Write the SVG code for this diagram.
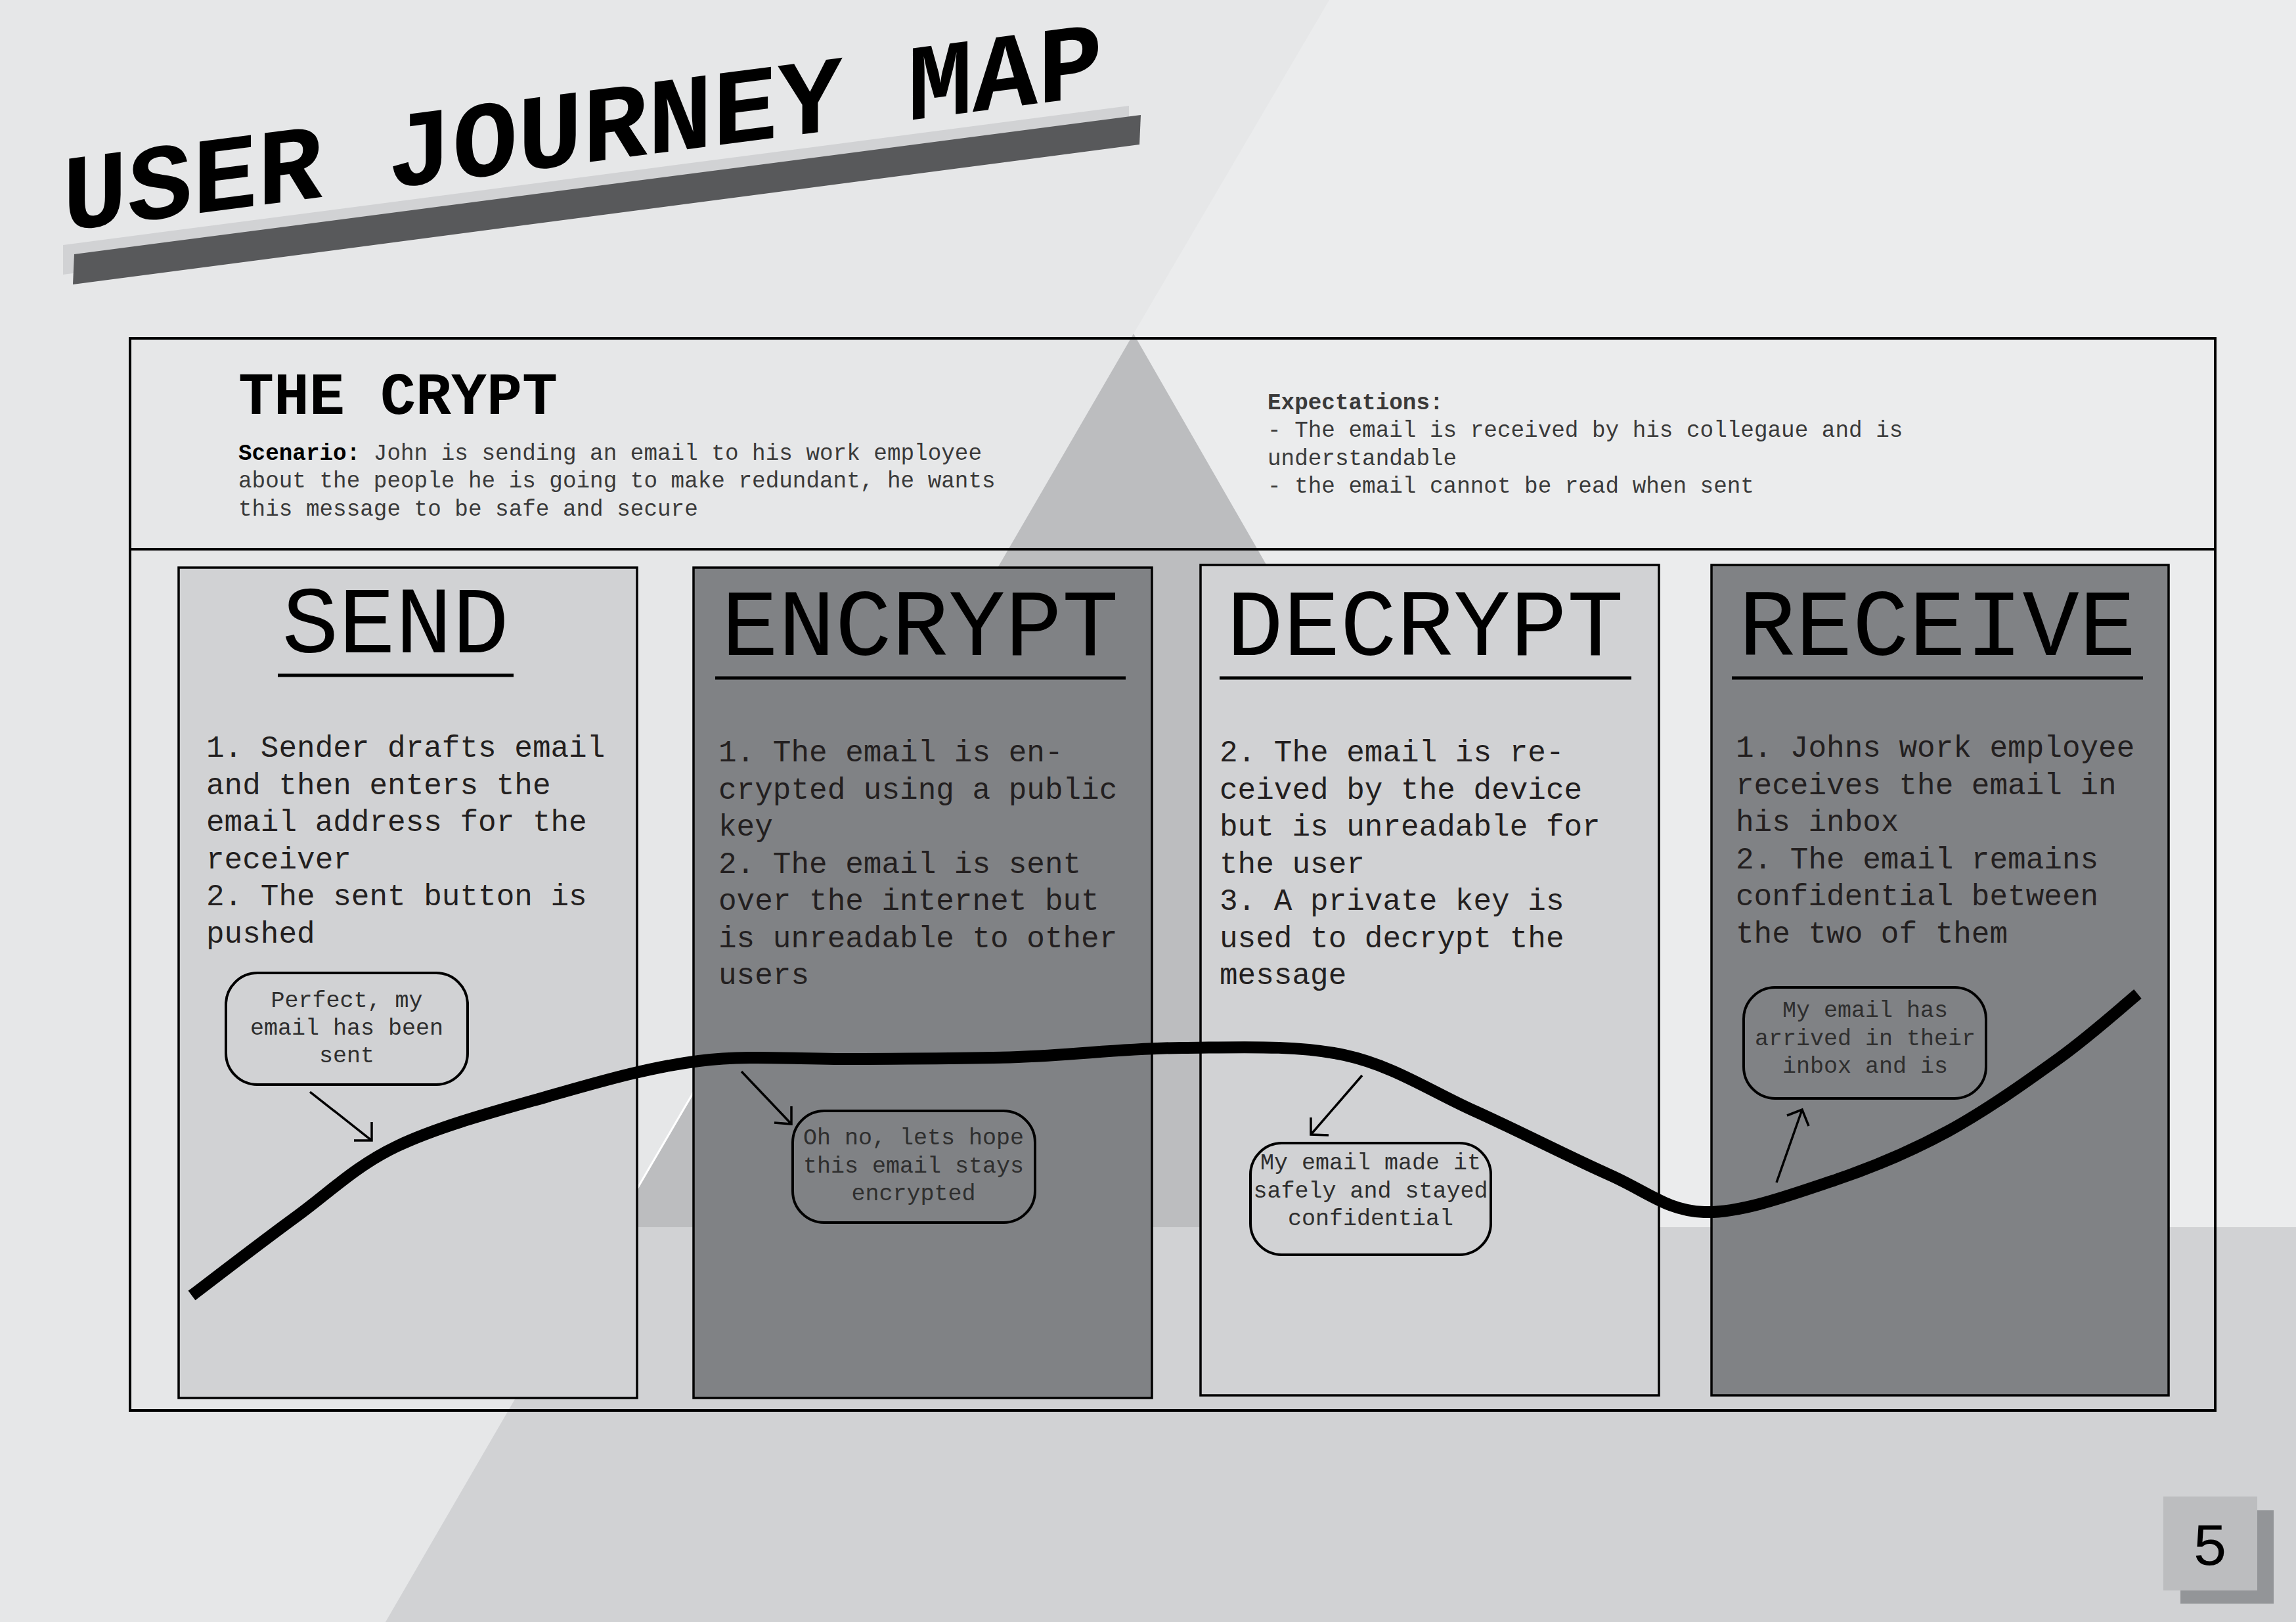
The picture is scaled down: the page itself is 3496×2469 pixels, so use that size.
<svg xmlns="http://www.w3.org/2000/svg" width="3496" height="2469" viewBox="0 0 3496 2469">
<style>
.mono{font-family:"Liberation Mono","DejaVu Sans Mono",monospace}
.col{stroke:#000;stroke-width:3.5}
.light{fill:#d1d2d4}
.dark{fill:#808285}
.title{font-size:144px;fill:#000;text-anchor:middle}
.uline{stroke:#000;stroke-width:5}
.body{font-size:46px;fill:#231f20}
.bubble{fill:none;stroke:#000;stroke-width:4}
.btext{font-size:35px;fill:#2e2e2e;text-anchor:middle}
.arrow{fill:none;stroke:#000;stroke-width:3.5}
.hdr{font-size:34.3px;fill:#3a3a3a}
</style>
<g id="background">
<rect x="0" y="0" width="3496" height="2469" fill="#e6e7e8"/>
<polygon points="2024,0 3496,0 3496,1868 2508,1868 1726,508" fill="#ebeced"/>
<polygon points="1726,508 936,1868 2508,1868" fill="#bcbdbf"/>
<polygon points="936,1868 3496,1868 3496,2469 587,2469" fill="#d1d2d4"/>
<line x1="1110" y1="1570" x2="936" y2="1868" stroke="#ffffff" stroke-width="3"/>
</g>
<g id="title-banner">
<polygon points="96,373 1719,161 1719,206 96,418" fill="#d1d2d4"/>
<polygon points="113,387 1737,175 1735,220 111,433" fill="#58595b"/>
<text class="mono" transform="skewY(-7.45)" x="95" y="364" font-size="165" font-weight="bold" fill="#000">USER JOURNEY MAP</text>
</g>
<g id="frame">
<rect x="198" y="515" width="3175" height="1632" fill="none" stroke="#000" stroke-width="4"/>
<line x1="198" y1="836" x2="3373" y2="836" stroke="#000" stroke-width="4"/>
</g>
<g id="header">
<text class="mono" x="363" y="630" font-size="90" font-weight="bold" fill="#000">THE CRYPT</text>
<text class="mono hdr" x="363" y="700"><tspan font-weight="bold" fill="#000">Scenario:</tspan> John is sending an email to his work employee</text>
<text class="mono hdr" x="363" y="742">about the people he is going to make redundant, he wants</text>
<text class="mono hdr" x="363" y="785">this message to be safe and secure</text>
<text class="mono hdr" x="1930" y="623" font-weight="bold" fill="#000">Expectations:</text>
<text class="mono hdr" x="1930" y="665">- The email is received by his collegaue and is</text>
<text class="mono hdr" x="1930" y="708">understandable</text>
<text class="mono hdr" x="1930" y="750">- the email cannot be read when sent</text>
</g>
<g id="send">
<rect class="col light" x="272" y="864" width="698" height="1264"/>
<text class="mono title" x="602" y="993">SEND</text>
<line class="uline" x1="423" y1="1028" x2="782" y2="1028"/>
<text class="mono body" x="314" y="1152">
<tspan x="314" dy="0">1. Sender drafts email</tspan>
<tspan x="314" dy="56.5">and then enters the</tspan>
<tspan x="314" dy="56.5">email address for the</tspan>
<tspan x="314" dy="56.5">receiver</tspan>
<tspan x="314" dy="56.5">2. The sent button is</tspan>
<tspan x="314" dy="56.5">pushed</tspan>
</text>
</g>
<g id="encrypt">
<rect class="col dark" x="1056" y="864" width="698" height="1264"/>
<text class="mono title" x="1401" y="997">ENCRYPT</text>
<line class="uline" x1="1089" y1="1032" x2="1714" y2="1032"/>
<text class="mono body" x="1094" y="1159">
<tspan x="1094" dy="0">1. The email is en-</tspan>
<tspan x="1094" dy="56.5">crypted using a public</tspan>
<tspan x="1094" dy="56.5">key</tspan>
<tspan x="1094" dy="56.5">2. The email is sent</tspan>
<tspan x="1094" dy="56.5">over the internet but</tspan>
<tspan x="1094" dy="56.5">is unreadable to other</tspan>
<tspan x="1094" dy="56.5">users</tspan>
</text>
</g>
<g id="decrypt">
<rect class="col light" x="1828" y="860" width="698" height="1264"/>
<text class="mono title" x="2170" y="997">DECRYPT</text>
<line class="uline" x1="1857" y1="1032" x2="2484" y2="1032"/>
<text class="mono body" x="1857" y="1159">
<tspan x="1857" dy="0">2. The email is re-</tspan>
<tspan x="1857" dy="56.5">ceived by the device</tspan>
<tspan x="1857" dy="56.5">but is unreadable for</tspan>
<tspan x="1857" dy="56.5">the user</tspan>
<tspan x="1857" dy="56.5">3. A private key is</tspan>
<tspan x="1857" dy="56.5">used to decrypt the</tspan>
<tspan x="1857" dy="56.5">message</tspan>
</text>
</g>
<g id="receive">
<rect class="col dark" x="2606" y="860" width="696" height="1264"/>
<text class="mono title" x="2950" y="997">RECEIVE</text>
<line class="uline" x1="2637" y1="1032" x2="3263" y2="1032"/>
<text class="mono body" x="2643" y="1152">
<tspan x="2643" dy="0">1. Johns work employee</tspan>
<tspan x="2643" dy="56.5">receives the email in</tspan>
<tspan x="2643" dy="56.5">his inbox</tspan>
<tspan x="2643" dy="56.5">2. The email remains</tspan>
<tspan x="2643" dy="56.5">confidential between</tspan>
<tspan x="2643" dy="56.5">the two of them</tspan>
</text>
</g>
<g id="bubble-sent">
<rect class="bubble" x="344" y="1481" width="368" height="170" rx="48" ry="48"/>
<text class="mono btext" x="528" y="1533">Perfect, my</text>
<text class="mono btext" x="528" y="1575">email has been</text>
<text class="mono btext" x="528" y="1617">sent</text>
</g>
<g id="bubble-encrypted">
<rect class="bubble" x="1207" y="1691" width="369" height="170" rx="48" ry="48"/>
<text class="mono btext" x="1391" y="1742">Oh no, lets hope</text>
<text class="mono btext" x="1391" y="1785">this email stays</text>
<text class="mono btext" x="1391" y="1827">encrypted</text>
</g>
<g id="bubble-confidential">
<rect class="bubble" x="1904" y="1740" width="366" height="170" rx="48" ry="48"/>
<text class="mono btext" x="2087" y="1780">My email made it</text>
<text class="mono btext" x="2087" y="1823">safely and stayed</text>
<text class="mono btext" x="2087" y="1865">confidential</text>
</g>
<g id="bubble-arrived">
<rect class="bubble" x="2655" y="1503" width="369" height="169" rx="48" ry="48"/>
<text class="mono btext" x="2840" y="1548">My email has</text>
<text class="mono btext" x="2840" y="1591">arrived in their</text>
<text class="mono btext" x="2840" y="1633">inbox and is</text>
</g>
<g id="connectors">
<path d="M292,1972 C318.5,1952 399,1889.8 451,1852 C503,1814.2 540.2,1775.5 604,1745 C667.8,1714.5 757.3,1690.7 834,1669 C910.7,1647.3 986.3,1624.8 1064,1615 C1141.7,1605.2 1219,1613 1300,1612 C1381,1611 1466.7,1611.8 1550,1609 C1633.3,1606.2 1717.2,1595.5 1800,1595 C1882.8,1594.5 1972.8,1590 2047,1606 C2121.2,1622 2177.8,1660.7 2245,1691 C2312.2,1721.3 2391.7,1762.3 2450,1788 C2508.3,1813.7 2538.5,1843.3 2595,1845 C2651.5,1846.7 2727.2,1818.5 2789,1798 C2850.8,1777.5 2908.3,1753.2 2966,1722 C3023.7,1690.8 3087.2,1645.5 3135,1611 C3182.8,1576.5 3233.3,1531 3255,1513" fill="none" stroke="#000" stroke-width="18"/>
<path class="arrow" d="M472,1662 L566,1736 M566,1708 L566,1736 L539,1736"/>
<path class="arrow" d="M1129,1631 L1205,1711 M1205,1684 L1205,1711 L1179,1709"/>
<path class="arrow" d="M2074,1637 L1996,1727 M1996,1701 L1996,1727 L2023,1728"/>
<path class="arrow" d="M2705,1800 L2744,1689 M2721,1698 L2744,1689 L2754,1714"/>
</g>
<g id="page-number">
<rect x="3320" y="2299" width="142" height="142" fill="#939598"/>
<rect x="3294" y="2278" width="143" height="143" fill="#bcbdbf"/>
<text class="mono" x="3365" y="2382" font-size="90" text-anchor="middle" fill="#000">5</text>
</g>
</svg>
